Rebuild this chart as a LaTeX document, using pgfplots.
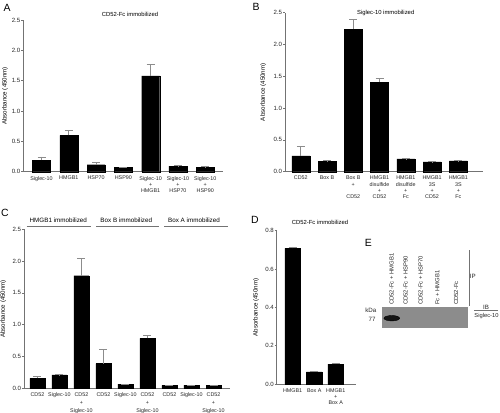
\documentclass[border=0pt]{standalone}
\usepackage{fontspec}
\setmainfont{Liberation Sans}
\usepackage{pgfplots}
\pgfplotsset{compat=1.18}

\definecolor{axgray}{gray}{0.45}
\definecolor{errgray}{gray}{0.55}
\definecolor{blotgray}{gray}{0.55}

\pgfplotsset{
  panel/.style={
    scale only axis, clip=false,
    axis lines*=left,
    axis line style={draw=axgray, line width=0.55bp},
    ymin=0,
    tick align=outside,
    major tick length=2bp,
    ytick style={draw=axgray, line width=0.55bp},
    xtick style={draw=none},
    xtick=data,
    /pgf/number format/assume math mode=true,
    yticklabel style={font=\fontsize{6.1}{6.5}\selectfont, /pgf/number format/fixed, /pgf/number format/fixed zerofill, /pgf/number format/precision=1, inner sep=0.8bp, text=black!85},
    xticklabel style={font=\fontsize{5.4}{6.3}\selectfont, align=center, anchor=north, inner sep=0pt, yshift=-2.3bp, text=black!85},
    ylabel={Absorbance (450nm)},
    ylabel style={font=\fontsize{6.2}{7}\selectfont, anchor=center},
  },
  bars/.style={ybar, fill=black, draw=black, line width=0.3bp, bar width=#1,
    error bars/.cd, y dir=plus, y explicit,
    error bar style={draw=errgray, line width=0.6bp},
    error mark options={draw=errgray, line width=0.6bp, mark size=4bp, rotate=90}},
}

\begin{document}
\begin{tikzpicture}
\path[use as bounding box] (0bp,0bp) rectangle (500bp,-413bp);

% ---------------- Panel A ----------------
\node[font=\fontsize{10.5}{12}\selectfont] at (7bp,-7.5bp) {A};
\node[font=\fontsize{5.9}{7}\selectfont] at (130bp,-14.3bp) {CD52-Fc immobilized};
\begin{axis}[panel, at={(23.3bp,-171.7bp)}, anchor=south west,
  width=199.7bp, height=151.7bp,
  xmin=-0.667, xmax=6.65, ymax=2.5, ytick={0,0.5,1,1.5,2,2.5},
  xticklabels={Siglec-10, HMGB1, HSP70, HSP90, {Siglec-10\\+\\HMGB1}, {Siglec-10\\+\\HSP70}, {Siglec-10\\+\\HSP90}},
  ylabel style={at={(axis description cs:-0.092,0.5)}}]
\addplot[bars=18bp] table[x=x,y=y,y error=e]{
x y e
0 0.19 0.055
1 0.60 0.075
2 0.115 0.035
3 0.07 0.003
4 1.58 0.19
5 0.09 0.008
6 0.075 0.008
};
\end{axis}

% ---------------- Panel B ----------------
\node[font=\fontsize{10.5}{12}\selectfont] at (256bp,-7bp) {B};
\node[font=\fontsize{5.9}{7}\selectfont] at (385.7bp,-13.3bp) {Siglec-10 immobilized};
\begin{axis}[panel, at={(285bp,-171.7bp)}, anchor=south west,
  width=198.3bp, height=159bp,
  xmin=-0.6, xmax=6.95, ymax=2.5, ytick={0,0.5,1,1.5,2,2.5},
  xticklabels={CD52, Box B, {Box B\\+\\[6.3bp]CD52}, {HMGB1\\disulfide\\+\\CD52}, {HMGB1\\disulfide\\+\\Fc}, {HMGB1\\3S\\+\\CD52}, {HMGB1\\3S\\+\\Fc}},
  ylabel style={at={(axis description cs:-0.11,0.5)}}]
\addplot[bars=18bp] table[x=x,y=y,y error=e]{
x y e
0 0.25 0.15
1 0.16 0.015
2 2.24 0.16
3 1.41 0.06
4 0.20 0.005
5 0.155 0.003
6 0.17 0.005
};
\end{axis}

% ---------------- Panel C ----------------
\node[font=\fontsize{10.5}{12}\selectfont] at (5bp,-213bp) {C};
\node[font=\fontsize{6.3}{7}\selectfont] at (58.3bp,-220.7bp) {HMGB1 immobilized};
\node[font=\fontsize{6.3}{7}\selectfont] at (126.3bp,-220.7bp) {Box B immobilized};
\node[font=\fontsize{6.3}{7}\selectfont] at (194bp,-220.7bp) {Box A immobilized};
\draw[axgray, line width=0.5bp] (26.7bp,-226bp) -- (90.7bp,-226bp);
\draw[axgray, line width=0.5bp] (96bp,-226bp) -- (159.3bp,-226bp);
\draw[axgray, line width=0.5bp] (164bp,-226bp) -- (228.3bp,-226bp);
\begin{axis}[panel, at={(24bp,-388.3bp)}, anchor=south west,
  width=206bp, height=159bp,
  xmin=-0.61, xmax=8.75, ymax=2.5, ytick={0,0.5,1,1.5,2,2.5},
  xticklabel style={font=\fontsize{5.4}{8}\selectfont},
  xticklabels={CD52, Siglec-10, {CD52\\+\\Siglec-10}, CD52, Siglec-10, {CD52\\+\\Siglec-10}, CD52, Siglec-10, {CD52\\+\\Siglec-10}},
  ylabel style={at={(axis description cs:-0.10,0.5)}}]
\addplot[bars=15bp] table[x=x,y=y,y error=e]{
x y e
0 0.157 0.03
1 0.21 0.005
2 1.77 0.27
3 0.39 0.22
4 0.065 0.003
5 0.786 0.05
6 0.045 0.003
7 0.05 0.004
8 0.045 0.003
};
\end{axis}

% ---------------- Panel D ----------------
\node[font=\fontsize{10.5}{12}\selectfont] at (255bp,-220bp) {D};
\node[font=\fontsize{5.9}{7}\selectfont] at (320bp,-222.7bp) {CD52-Fc immobilized};
\begin{axis}[panel, at={(276.7bp,-384bp)}, anchor=south west,
  width=79.3bp, height=153.3bp,
  xmin=-0.74, xmax=2.94, ymax=0.8, ytick={0,0.2,0.4,0.6,0.8},
  xticklabels={HMGB1, Box A, {HMGB1\\+\\Box A}},
  ylabel style={at={(axis description cs:-0.26,0.5)}}]
\addplot[bars=15.7bp] table[x=x,y=y,y error=e]{
x y e
0 0.708 0.007
1 0.063 0.004
2 0.104 0.005
};
\end{axis}

% ---------------- Panel E ----------------
\node[font=\fontsize{10.5}{12}\selectfont] at (368.3bp,-243.3bp) {E};
\begin{axis}[at={(381.7bp,-328.3bp)}, anchor=south west, scale only axis,
  width=86.6bp, height=21bp, hide axis, clip=false,
  xmin=-0.66, xmax=5.02, ymin=0, ymax=1]
\addplot[fill=blotgray, draw=none] coordinates {(-0.66,0) (5.02,0) (5.02,1) (-0.66,1)};
\addplot[only marks, mark=*, mark size=2.7bp, mark options={fill=black!92, draw=none, xscale=2.9}] coordinates {(0,0.48)};
\end{axis}
\foreach \xx/\lab in {391.7/{CD52-Fc + HMGB1}, 405.7/{CD52-Fc + HSP90}, 420.7/{CD52-Fc + HSP70}, 437.3/{Fc + HMGB1}, 456/{CD52-Fc}}{
  \node[font=\fontsize{5.9}{7}\selectfont, rotate=90, anchor=west, inner sep=0pt, text=black!85] at (\xx bp,-305bp) {\lab};
}
\node[font=\fontsize{6.2}{7}\selectfont, text=black!85] at (370.8bp,-310bp) {kDa};
\node[font=\fontsize{6.2}{7}\selectfont, text=black!85] at (372bp,-319.3bp) {77};
\draw[axgray, line width=0.5bp] (469.5bp,-250bp) -- (469.5bp,-306bp);
\node[font=\fontsize{6.2}{7}\selectfont, anchor=east, inner sep=0pt, text=black!85] at (475.9bp,-276.7bp) {IP};
\node[font=\fontsize{6.2}{7}\selectfont, text=black!85] at (486bp,-307.5bp) {IB};
\draw[axgray, line width=0.5bp] (474.3bp,-310.7bp) -- (497.7bp,-310.7bp);
\node[font=\fontsize{5.8}{7}\selectfont, text=black!85] at (486.5bp,-316.3bp) {Siglec-10};
\end{tikzpicture}
\end{document}
